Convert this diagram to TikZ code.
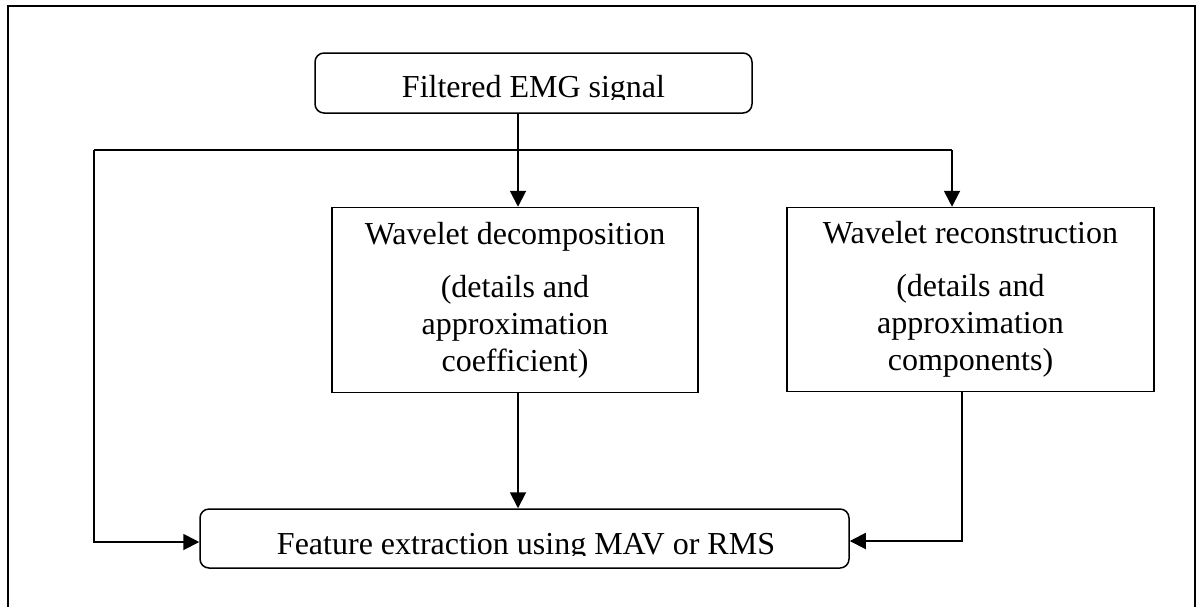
\documentclass[tikz,border=0pt]{standalone}
\usepackage{fontspec}
\setmainfont{Liberation Serif}
\usetikzlibrary{arrows.meta}
\begin{document}
\begin{tikzpicture}[x=0.5pt,y=-0.5pt,
  every node/.style={font=\fontsize{16}{18.5}\selectfont, inner sep=0pt},
  frame/.style={line width=0.9pt},
  sqbox/.style={draw, line width=0.75pt, align=center},
  rbox/.style={draw, line width=0.75pt, rounded corners=4.5pt},
  arr/.style={line width=0.95pt, -{Triangle[length=8pt,width=8pt]}},
  conn/.style={line width=0.95pt}
]
\useasboundingbox (0,0) rectangle (1202,606);
% outer frame (bottom edge lies outside the picture)
\draw[frame] (8,640) -- (8,6) -- (1195,6) -- (1195,640);

% boxes
\node[rbox, minimum width=218.5pt, minimum height=30pt] (sig) at (533.5,83) {};
\node[sqbox, minimum width=183pt, minimum height=92.5pt] (dec) at (515,300)
  {Wavelet decomposition\\[8pt](details and\\approximation\\coefficient)};
\node[sqbox, minimum width=183.5pt, minimum height=92pt] (rec) at (970.5,299.5)
  {Wavelet reconstruction\\[8pt](details and\\approximation\\components)};
\node[rbox, minimum width=324.5pt, minimum height=29.5pt] (feat) at (524.5,538.5) {};

% clipped labels of the rounded boxes
\begin{scope}
  \clip (315,53) rectangle (752,99.5);
  \node[anchor=base] (sigtext) at (533.5,97) {Filtered EMG signal};
\end{scope}
\begin{scope}
  \clip (200,509) rectangle (849,555.5);
  \node[anchor=base] (feattext) at (526,554) {Feature extraction using MAV or RMS};
\end{scope}

% connectors
\coordinate (busL) at (94,150);
\coordinate (busR) at (952,150);
\coordinate (decin) at ([xshift=1.5pt]dec.north);
\coordinate (decout) at ([xshift=1.5pt]dec.south);
\coordinate (recout) at ([xshift=-4.25pt]rec.south);
\draw[arr] (sig.south -| decin) -- (decin);
\draw[conn] (busL) -- (busR);
\draw[arr] (busR) -- (busR |- rec.north);
\draw[arr] (busL) |- ([yshift=-1.75pt]feat.west);
\draw[arr] (decout) -- (decout |- feat.north);
\draw[arr] (recout) |- ([yshift=-1.25pt]feat.east);
\end{tikzpicture}
\end{document}
